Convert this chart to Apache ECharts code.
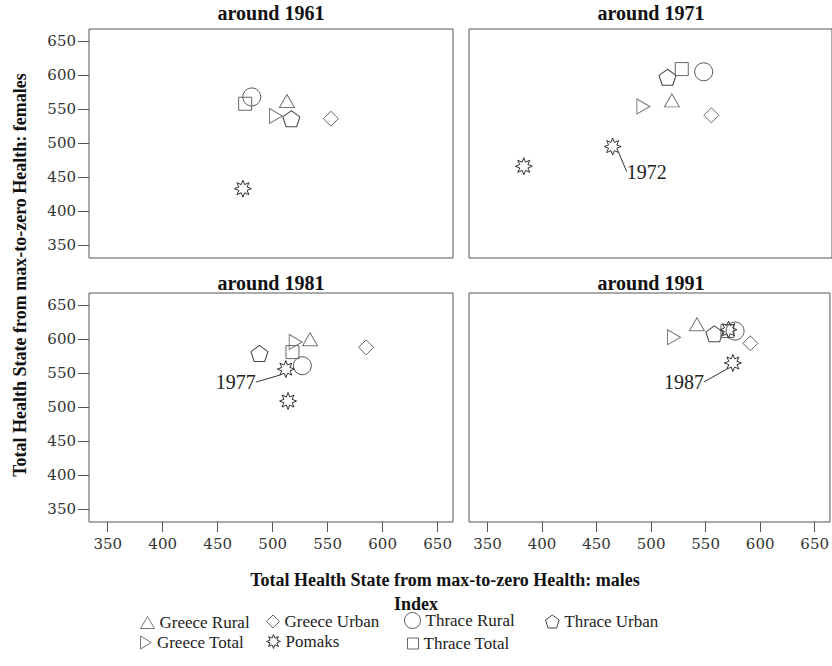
<!DOCTYPE html>
<html>
<head>
<meta charset="utf-8">
<script src="https://cdn.jsdelivr.net/npm/echarts@6/dist/echarts.min.js"></script>
<style>
  html, body { margin: 0; padding: 0; background: #fff; }
  #chart { width: 832px; height: 666px; }
</style>
</head>
<body>
<div id="chart"></div>
<script>
// Panels (one per decade) and shared tick labels
const panelTitles = ['around 1961', 'around 1971', 'around 1981', 'around 1991'];
const tickValues = [350, 400, 450, 500, 550, 600, 650];

// [males, females] per panel, in panel order
const greeceRural = [[513, 562], [518, 563], [534, 600], [542, 622]];
const greeceUrban = [[553, 536], [554, 541], [585, 588], [591, 594]];
const thraceRural = [[481, 568], [547, 605], [527, 561], [577, 612]];
const thraceUrban = [[517, 536], [514, 597], [488, 579], [558, 608]];
const greeceTotal = [[503, 540], [492, 554], [521, 596], [521, 603]];
const pomaks      = [[473, 433], [383, 466], [514, 509], [571, 614]];
const thraceTotal = [[475, 558], [527, 609], [518, 581], [570, 612]];

// Extra Pomaks observations with their year note
const pomaksNoted = [null, [464, 495], [512, 556], [575, 565]];
const noteYears   = ['', '1972', '1977', '1987'];

const SERIF = '"Liberation Serif", "Times New Roman", serif';
const TICK_FONT = '"DejaVu Serif", serif';

// Outline shapes
function starSymbol() {
  let d = '';
  for (let i = 0; i < 16; i++) {
    const a = Math.PI * i / 8 - Math.PI / 2;
    const r = i % 2 ? 5.2 : 10;
    d += (i ? 'L' : 'M') + (10 + r * Math.cos(a)).toFixed(2) + ',' + (10 + r * Math.sin(a)).toFixed(2);
  }
  return 'path://' + d + 'Z';
}
function pentagonSymbol() {
  let d = '';
  for (let i = 0; i < 5; i++) {
    const a = -Math.PI / 2 + i * 2 * Math.PI / 5;
    d += (i ? 'L' : 'M') + (10 + 10 * Math.cos(a)).toFixed(2) + ',' + (10 + 10 * Math.sin(a)).toFixed(2);
  }
  return 'path://' + d + 'Z';
}
const STAR = starSymbol();
const PENTAGON = pentagonSymbol();
const RIGHT_TRIANGLE = 'path://M0,0L10,6L0,12Z';

const groups = [
  { name: 'Greece Rural', data: greeceRural, symbol: 'triangle', size: [15, 13], color: '#777', legend: [140, 614], icon: [14, 12] },
  { name: 'Greece Urban', data: greeceUrban, symbol: 'diamond', size: [15, 15], color: '#666', legend: [266, 613], icon: [13, 13] },
  { name: 'Thrace Rural', data: thraceRural, symbol: 'circle', size: 18, color: '#555', legend: [404, 612], icon: [16, 16] },
  { name: 'Thrace Urban', data: thraceUrban, symbol: PENTAGON, size: [17, 16], color: '#444', legend: [545, 613], icon: [14, 13] },
  { name: 'Greece Total', data: greeceTotal, symbol: RIGHT_TRIANGLE, size: [13, 15], color: '#777', legend: [140, 634], icon: [12, 13] },
  { name: 'Pomaks', data: pomaks, symbol: STAR, size: 17, color: '#333', legend: [266, 633], icon: [14, 14] },
  { name: 'Thrace Total', data: thraceTotal, symbol: 'rect', size: 13, color: '#666', legend: [407, 635], icon: [11, 11] }
];
const noteOffsets = [null, [34, 25], [-50, 13], [-49, 19]];

const xMin = 333, xMax = 664, yMin = 331, yMax = 668;
const gridBoxes = [
  { left: 89, top: 29 }, { left: 469, top: 29 },
  { left: 89, top: 293 }, { left: 469, top: 293 }
];

const grid = gridBoxes.map(b => ({
  left: b.left, top: b.top, width: 364, height: 229,
  show: true, borderColor: '#555', borderWidth: 1, backgroundColor: 'transparent'
}));

const xAxis = panelTitles.map((t, i) => ({
  gridIndex: i, type: 'value', min: xMin, max: xMax,
  splitLine: { show: false }, axisLine: { show: false },
  axisTick: { show: i >= 2, length: 10, customValues: tickValues, lineStyle: { color: '#555' } },
  axisLabel: { show: i >= 2, customValues: tickValues, margin: 14, fontFamily: TICK_FONT, fontSize: 15, color: '#333' }
}));
const yAxis = panelTitles.map((t, i) => ({
  gridIndex: i, type: 'value', min: yMin, max: yMax,
  splitLine: { show: false }, axisLine: { show: false },
  axisTick: { show: i % 2 === 0, length: 11, customValues: tickValues, lineStyle: { color: '#555' } },
  axisLabel: { show: i % 2 === 0, customValues: tickValues, margin: 13, fontFamily: TICK_FONT, fontSize: 15, color: '#333' }
}));

const series = [];
panelTitles.forEach((t, i) => {
  groups.forEach(g => {
    series.push({
      type: 'scatter', name: g.name, xAxisIndex: i, yAxisIndex: i,
      data: [g.data[i]], symbol: g.symbol, symbolSize: g.size,
      itemStyle: { color: 'rgba(255,255,255,0)', borderColor: g.color, borderWidth: 1, opacity: 1 },
      emphasis: { disabled: true }, z: g.name === 'Pomaks' ? 3 : 2
    });
  });
  if (pomaksNoted[i]) {
    series.push({
      type: 'scatter', name: 'Pomaks', xAxisIndex: i, yAxisIndex: i,
      data: [pomaksNoted[i]], symbol: STAR, symbolSize: 17,
      itemStyle: { color: 'rgba(255,255,255,0)', borderColor: '#333', borderWidth: 1, opacity: 1 },
      label: { show: true, position: 'inside', formatter: noteYears[i], fontFamily: SERIF, fontSize: 20, color: '#222' },
      labelLayout: { dx: noteOffsets[i][0], dy: noteOffsets[i][1] },
      labelLine: { show: true, lineStyle: { color: '#333', width: 1 } },
      emphasis: { disabled: true }, z: 3
    });
  }
});

const legend = groups.map(g => ({
  data: [g.name], left: g.legend[0], top: g.legend[1], padding: 0,
  itemWidth: g.icon[0], itemHeight: g.icon[1], selectedMode: false,
  itemStyle: { borderWidth: 1, borderColor: g.color, color: 'rgba(255,255,255,0)' },
  textStyle: { fontFamily: SERIF, fontSize: 17, lineHeight: 16, color: '#222' }
}));

function txt(x, y, text, font, rot) {
  return {
    type: 'text', x: x, y: y, rotation: rot || 0,
    style: { text: text, font: font, fill: '#111', align: 'center', verticalAlign: 'middle',
             textAlign: 'center', textVerticalAlign: 'middle' }
  };
}
const graphic = [
  txt(271, 13, panelTitles[0], 'bold 20px ' + SERIF),
  txt(651, 13, panelTitles[1], 'bold 20px ' + SERIF),
  txt(271, 283, panelTitles[2], 'bold 20px ' + SERIF),
  txt(651, 283, panelTitles[3], 'bold 20px ' + SERIF),
  txt(445, 580, 'Total Health State from max-to-zero Health: males', 'bold 18px ' + SERIF),
  txt(20, 275, 'Total Health State from max-to-zero Health: females', 'bold 18px ' + SERIF, Math.PI / 2),
  txt(416, 604, 'Index', 'bold 18px ' + SERIF)
];

const chart = echarts.init(document.getElementById('chart'), null, { renderer: 'svg' });
chart.setOption({
  animation: false,
  backgroundColor: '#fff',
  grid, xAxis, yAxis, series, legend, graphic
});
</script>
</body>
</html>
